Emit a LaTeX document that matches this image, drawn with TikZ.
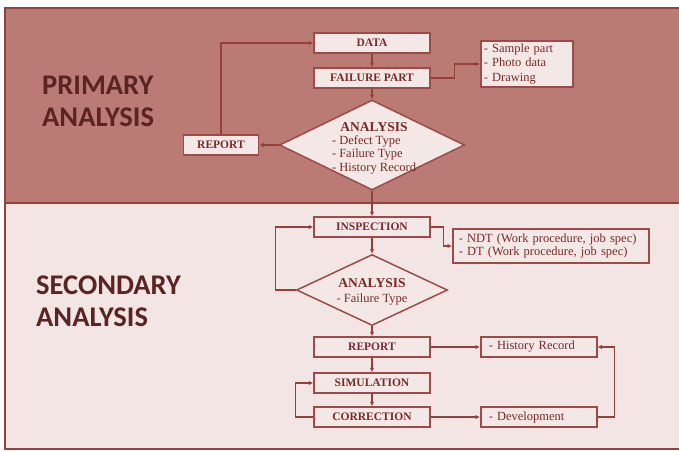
\documentclass[tikz,border=0pt]{standalone}
\usepackage{fontspec}
\setmainfont{Liberation Serif}
\newfontfamily\headfont{Carlito}
\usetikzlibrary{
  arrows.meta,
  positioning,
  calc,
  shapes.geometric
}
\definecolor{primaryfill}{RGB}{185,123,116}
\definecolor{secondaryfill}{RGB}{242,229,228}
\definecolor{panelred}{RGB}{150,64,60}
\definecolor{boxred}{RGB}{158,74,70}
\definecolor{textred}{RGB}{120,42,40}
\definecolor{headbrown}{RGB}{90,36,34}
\definecolor{boxfill}{RGB}{244,232,231}
\tikzset{
  stagebox/.style={
    draw=boxred,
    fill=boxfill,
    line width=1.5pt,
    minimum width=116pt,
    minimum height=20pt,
    inner sep=1pt,
    text=textred,
    font=\bfseries\fontsize{11.5}{13}\selectfont
  },
  listbox/.style={
    draw=boxred,
    fill=boxfill,
    line width=1.5pt,
    align=left,
    anchor=west,
    inner sep=0pt,
    text=textred,
    font=\fontsize{12.5}{12.5}\selectfont
  },
  decision/.style={
    diamond,
    draw=boxred,
    fill=boxfill,
    line width=1.5pt,
    inner sep=0pt
  },
  decisiontext/.style={
    align=center,
    inner sep=0pt,
    text=textred,
    font=\fontsize{12.5}{14.5}\selectfont
  },
  headtext/.style={
    anchor=west,
    align=left,
    inner sep=0pt,
    text=headbrown,
    font=\headfont\bfseries\fontsize{28.5}{32}\selectfont
  },
  flowarrow/.style={-{Latex[length=4.5pt,width=4.5pt]},line width=1.3pt,draw=panelred},
}

\begin{document}
\begin{tikzpicture}[x=1pt,y=-1pt]
  \useasboundingbox (0,0) rectangle (679,451);
  % the two panels
  \fill[primaryfill] (5,8) rectangle (679,203);
  \fill[secondaryfill] (5,203) rectangle (679,449);
  \draw[panelred,line width=1.8pt] (679,8) -- (5,8) -- (5,449) -- (679,449);
  \draw[panelred,line width=1.8pt] (5,203) -- (679,203);

  \node[headtext] (primhead) at (42,101) {PRIMARY\\ANALYSIS};
  \node[headtext] (sechead) at (36,301) {SECONDARY\\ANALYSIS};

  % primary analysis
  \node[stagebox] (data) at (372,43) {DATA};
  \node[stagebox] (failure) at (372,78) {FAILURE PART};
  \node[decision,minimum width=185pt,minimum height=90pt] (analysisA) at (372,145) {};
  \node[decisiontext] (analysisAtext) at (374,149) {
    {\bfseries\fontsize{13.5}{15}\selectfont ANALYSIS}\\[2pt]
    \begin{tabular}{@{}l@{}}- Defect Type\\[-1pt]- Failure Type\\[-1pt]- History Record\end{tabular}
  };
  \node[stagebox,minimum width=75pt] (reportA) at (221,145) {REPORT};
  \node[listbox,minimum width=92pt,minimum height=46pt,text width=86pt,inner xsep=3pt,
        font=\fontsize{12.5}{14.5}\selectfont] (sample) at (480,64) {
    - Sample part\\- Photo data\\- Drawing
  };

  % secondary analysis
  \node[stagebox] (inspection) at (372,227) {INSPECTION};
  \node[listbox,minimum width=192pt,minimum height=34pt,text width=184pt,inner xsep=6pt] (ndt) at (452,246) {
    - NDT (Work procedure, job spec)\\- DT (Work procedure, job spec)
  };
  \node[decision,minimum width=151pt,minimum height=71pt] (analysisB) at (372,290) {};
  \node[decisiontext] (analysisBtext) at (372,292) {
    {\bfseries\fontsize{13.5}{15}\selectfont ANALYSIS}\\- Failure Type
  };
  \node[stagebox] (reportB) at (372,347) {REPORT};
  \node[stagebox] (simulation) at (372,383) {SIMULATION};
  \node[stagebox] (correction) at (372,417) {CORRECTION};
  \node[listbox,minimum width=108pt,minimum height=20pt,text width=100pt,inner xsep=8pt] (history) at (480,347) {- History Record};
  \node[listbox,minimum width=108pt,minimum height=20pt,text width=100pt,inner xsep=8pt] (development) at (480,417) {- Development};

  \draw[flowarrow] (data) -- (failure);
  \draw[flowarrow] (failure) -- (analysisA.north);
  \draw[flowarrow] (analysisA.west) -- (reportA);
  \draw[flowarrow] (reportA.north) |- (data.west);
  \draw[flowarrow] (failure.east) -- ++(24,0) |- (sample.west);
  \draw[flowarrow] (analysisA.south) -- (inspection.north);
  \draw[flowarrow] (inspection.east) -- ++(13,0) |- (ndt.west);
  \draw[flowarrow] (inspection) -- (analysisB.north);
  \draw[flowarrow] (analysisB.west) -- ++(-20,0) |- (inspection.west);
  \draw[flowarrow] (analysisB.south) -- (reportB.north);
  \draw[flowarrow] (reportB) -- (history);
  \draw[flowarrow] (reportB) -- (simulation);
  \draw[flowarrow] (simulation) -- (correction);
  \draw[flowarrow] (correction.west) -- ++(-18,0) |- (simulation.west);
  \draw[flowarrow] (correction) -- (development);
  \draw[flowarrow] (development.east) -- ++(17,0) |- (history.east);
\end{tikzpicture}
\end{document}
